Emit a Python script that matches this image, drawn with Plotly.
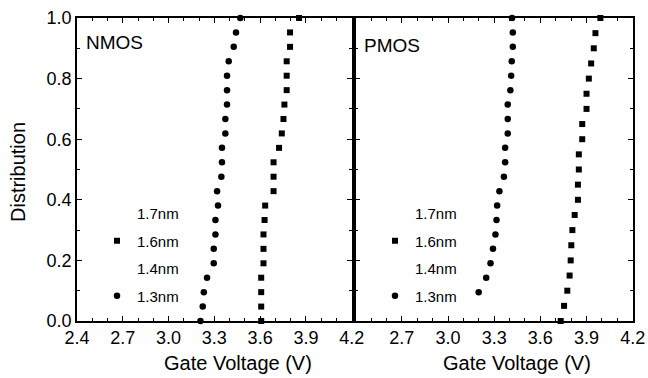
import plotly.graph_objects as go

# ---------------- data ----------------
nmos_y = [21/21, 20/21, 19/21, 18/21, 17/21, 16/21, 15/21, 14/21, 13/21, 12/21, 11/21,
          10/21, 9/21, 8/21, 7/21, 6/21, 5/21, 4/21, 3/21, 2/21, 1/21, 0/21]
nmos_13nm_v = [3.470, 3.442, 3.427, 3.394, 3.383, 3.383, 3.383, 3.372, 3.372, 3.350, 3.350,
               3.346, 3.318, 3.324, 3.307, 3.307, 3.296, 3.296, 3.252, 3.231, 3.224, 3.209]
nmos_16nm_v = [3.855, 3.796, 3.796, 3.774, 3.774, 3.774, 3.759, 3.753, 3.742, 3.724, 3.688,
               3.688, 3.688, 3.633, 3.629, 3.622, 3.622, 3.622, 3.607, 3.607, 3.607, 3.607]

pmos_13nm_y = [21/21, 20/21, 19/21, 18/21, 17/21, 16/21, 15/21, 14/21, 13/21, 12/21,
               11/21, 10/21, 9/21, 8/21, 7/21, 6/21, 5/21, 4/21, 3/21, 2/21]
pmos_13nm_v = [3.416, 3.421, 3.421, 3.414, 3.410, 3.405, 3.388, 3.388, 3.388, 3.371,
               3.371, 3.363, 3.334, 3.319, 3.315, 3.308, 3.292, 3.276, 3.248, 3.199]
pmos_16nm_y = [1.00, 0.95, 0.90, 0.85, 0.80, 0.75, 0.70, 0.65, 0.60, 0.55, 0.50,
               0.45, 0.40, 0.35, 0.30, 0.25, 0.20, 0.15, 0.10, 0.05, 0.00]
pmos_16nm_v = [3.990, 3.958, 3.947, 3.930, 3.915, 3.900, 3.900, 3.872, 3.872, 3.850, 3.850,
               3.844, 3.844, 3.823, 3.808, 3.801, 3.797, 3.790, 3.775, 3.754, 3.732]

# series whose marks are not visible in the scanned figure
empty_v = []
empty_y = []

legend_names = ["1.7nm", "1.6nm", "1.4nm", "1.3nm"]
x_ticks = [2.4, 2.7, 3.0, 3.3, 3.6, 3.9, 4.2]
x_ticktext_left = ["2.4", "2.7", "3.0", "3.3", "3.6", "3.9", "4.2"]
x_ticktext_right = ["", "2.7", "3.0", "3.3", "3.6", "3.9", "4.2"]
y_ticks = [0.0, 0.2, 0.4, 0.6, 0.8, 1.0]
y_ticktext = ["0.0", "0.2", "0.4", "0.6", "0.8", "1.0"]

FONT = "Liberation Sans, Arial, Helvetica, sans-serif"
W, H = 648, 378

fig = go.Figure()

def add_panel(xa, ya, legend, v17, y17, v16, y16, v14, y14, v13, y13):
    specs = [
        (legend_names[0], v17, y17, "circle", "rgba(0,0,0,0)", 6),
        (legend_names[1], v16, y16, "square", "black", 6),
        (legend_names[2], v14, y14, "circle", "rgba(0,0,0,0)", 6),
        (legend_names[3], v13, y13, "circle", "black", 6.5),
    ]
    for i, (name, xv, yv, sym, col, sz) in enumerate(specs):
        fig.add_trace(go.Scatter(
            x=xv if len(xv) else [None], y=yv if len(yv) else [None],
            mode="markers", name=name,
            marker=dict(symbol=sym, color=col, size=sz, line=dict(width=0)),
            xaxis=xa, yaxis=ya, legend=legend, legendgroup=legend + str(i),
            cliponaxis=False,
        ))

add_panel("x", "y", "legend", empty_v, empty_y, nmos_16nm_v, nmos_y,
          empty_v, empty_y, nmos_13nm_v, nmos_y)
add_panel("x2", "y2", "legend2", empty_v, empty_y, pmos_16nm_v, pmos_16nm_y,
          empty_v, empty_y, pmos_13nm_v, pmos_13nm_y)

axis_common = dict(
    showline=True, linecolor="black", linewidth=1.5, mirror="ticks",
    ticks="inside", ticklen=5, tickwidth=1.2, tickcolor="black",
    showgrid=False, zeroline=False, automargin=False,
    tickfont=dict(family=FONT, size=18, color="black"),
)
minor_x = dict(dtick=0.1, ticks="inside", ticklen=3, tickwidth=1, tickcolor="black", showgrid=False)
minor_y = dict(dtick=0.1, ticks="inside", ticklen=3, tickwidth=1, tickcolor="black", showgrid=False)

y_dom = [1 - 321 / H, 1 - 18 / H]
legend_common = dict(
    font=dict(family=FONT, size=15, color="black"),
    bgcolor="rgba(0,0,0,0)", borderwidth=0,
    traceorder="grouped", tracegroupgap=5,
    xanchor="left", yanchor="top", itemclick=False,
)

fig.update_layout(
    width=W, height=H,
    margin=dict(l=0, r=0, t=0, b=0, autoexpand=False),
    paper_bgcolor="white", plot_bgcolor="white",
    showlegend=True,
    xaxis=dict(domain=[77 / W, 351.7 / W], range=[2.4, 4.2], anchor="y",
               tickvals=x_ticks, ticktext=x_ticktext_left, minor=minor_x, **axis_common),
    xaxis2=dict(domain=[355.7 / W, 632.7 / W], range=[2.4, 4.2], anchor="y2",
                tickvals=x_ticks, ticktext=x_ticktext_right, minor=minor_x, **axis_common),
    yaxis=dict(domain=y_dom, range=[0, 1.0], anchor="x",
               tickvals=y_ticks, ticktext=y_ticktext, minor=minor_y, **axis_common),
    yaxis2=dict(domain=y_dom, range=[0, 1.0], anchor="x2", showticklabels=False,
                tickvals=y_ticks, minor=minor_y, **axis_common),
    legend=dict(x=97 / W, y=1 - 197 / H, **legend_common),
    legend2=dict(x=375 / W, y=1 - 197 / H, **legend_common),
)

annots = [
    dict(text="NMOS", x=84 / W, y=1 - 43 / H, xanchor="left", yanchor="middle", size=19),
    dict(text="PMOS", x=362 / W, y=1 - 45 / H, xanchor="left", yanchor="middle", size=19),
    dict(text="Gate Voltage (V)", x=238 / W, y=1 - 363 / H, xanchor="center", yanchor="middle", size=20),
    dict(text="Gate Voltage (V)", x=517 / W, y=1 - 363 / H, xanchor="center", yanchor="middle", size=20),
]
for a in annots:
    fig.add_annotation(text=a["text"], xref="paper", yref="paper", x=a["x"], y=a["y"],
                       xanchor=a["xanchor"], yanchor=a["yanchor"], showarrow=False,
                       font=dict(family=FONT, size=a["size"], color="black"))
fig.add_annotation(text="Distribution", xref="paper", yref="paper", x=18 / W, y=1 - 172 / H,
                   xanchor="center", yanchor="middle", textangle=-90, showarrow=False,
                   font=dict(family=FONT, size=20, color="black"))

fig.write_html("out.html", config={"displayModeBar": False},
               post_script="document.body.style.margin='0px';document.body.style.overflow='hidden';")
